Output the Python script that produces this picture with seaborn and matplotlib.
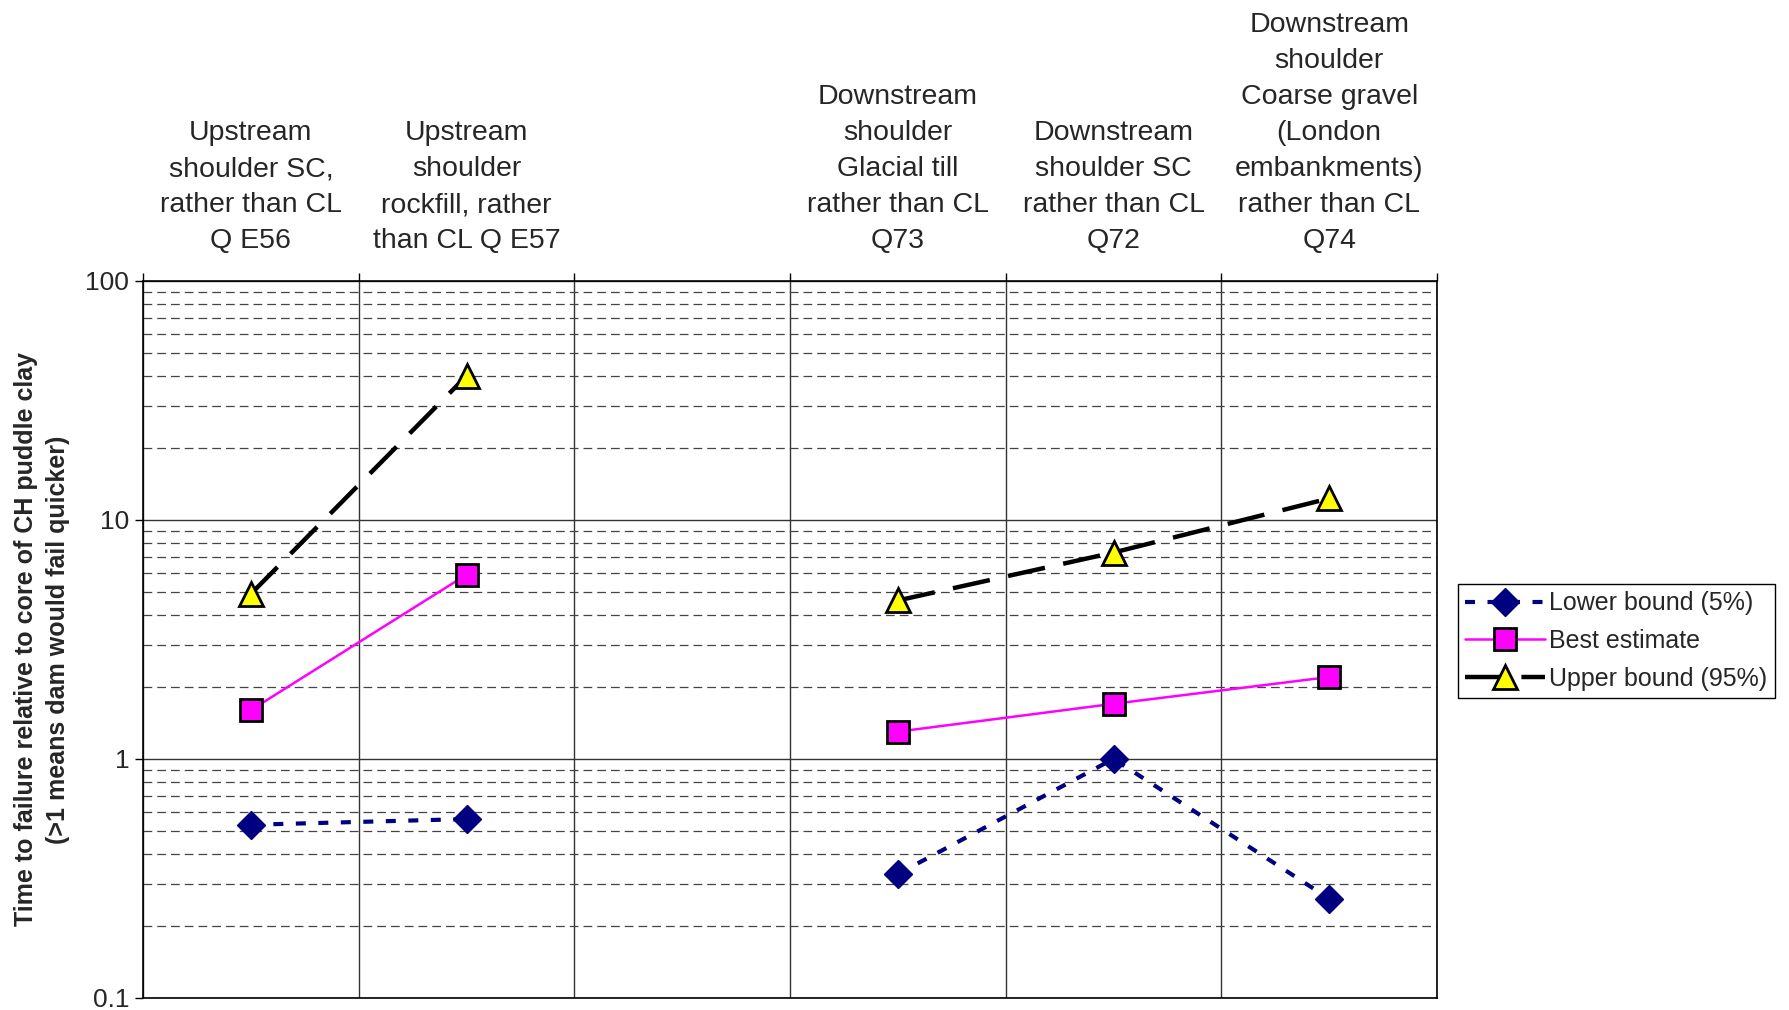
import numpy as np
import pandas as pd
import matplotlib
matplotlib.use("Agg")
import matplotlib.pyplot as plt
from matplotlib.ticker import FixedLocator, NullFormatter, FuncFormatter, LogLocator
import seaborn as sns

# Categories (the third slot is an empty spacer column)
categories = [
    "Upstream\nshoulder SC,\nrather than CL\nQ E56",
    "Upstream\nshoulder\nrockfill, rather\nthan CL Q E57",
    "",
    "Downstream\nshoulder\nGlacial till\nrather than CL\nQ73",
    "Downstream\nshoulder SC\nrather than CL\nQ72",
    "Downstream\nshoulder\nCoarse gravel\n(London\nembankments)\nrather than CL\nQ74",
]
# Line segments: the spacer column splits each series in two
segments = [0, 0, -1, 1, 1, 1]

lower_bound = [0.53, 0.56, np.nan, 0.33, 1.0, 0.26]
best_estimate = [1.6, 5.9, np.nan, 1.3, 1.7, 2.2]
upper_bound = [4.9, 40.0, np.nan, 4.6, 7.3, 12.3]

series_names = ["Lower bound (5%)", "Best estimate", "Upper bound (95%)"]

rows = []
for name, vals in zip(series_names, [lower_bound, best_estimate, upper_bound]):
    for pos, (v, seg) in enumerate(zip(vals, segments)):
        if not np.isnan(v):
            rows.append({"pos": pos, "value": v, "series": name, "segment": seg})
df = pd.DataFrame(rows)

sns.set_style("white")
plt.rcParams["font.family"] = ["Liberation Sans", "DejaVu Sans"]

fig = plt.figure(figsize=(17.9, 10.1), dpi=100)
ax = fig.add_axes([0.0799, 0.012, 0.7229, 0.7099])

styles = {
    "Lower bound (5%)": dict(color="#000080", marker="D", markersize=14,
                             markerfacecolor="#000080", markeredgecolor="#000080",
                             markeredgewidth=1.0, linewidth=3.0,
                             linestyle=(0, (2.4, 3.0))),
    "Best estimate": dict(color="#FF00FF", marker="s", markersize=16,
                          markerfacecolor="#FF00FF", markeredgecolor="black",
                          markeredgewidth=2.0, linewidth=1.8, linestyle="-"),
    "Upper bound (95%)": dict(color="black", marker="^", markersize=17,
                              markerfacecolor="#FFFF00", markeredgecolor="black",
                              markeredgewidth=2.0, linewidth=3.2,
                              linestyle=(0, (8.5, 4.2))),
}

handles = []
for name in series_names:
    n_before = len(ax.lines)
    sns.lineplot(data=df[df["series"] == name], x="pos", y="value",
                 units="segment", estimator=None, ax=ax, legend=False,
                 zorder=5, **styles[name])
    handles.append(ax.lines[n_before])

ax.set_yscale("log")
ax.set_ylim(0.1, 100)
ax.set_xlim(-0.5, len(categories) - 0.5)

# y axis: decades labelled, minor dashed grid
ax.yaxis.set_major_locator(FixedLocator([0.1, 1, 10, 100]))
ax.yaxis.set_major_formatter(FuncFormatter(lambda v, p: f"{v:g}"))
ax.yaxis.set_minor_locator(LogLocator(base=10, subs=np.arange(2, 10)))
ax.yaxis.set_minor_formatter(NullFormatter())
ax.tick_params(axis="y", which="major", direction="out", length=6, width=1,
               color="black", labelsize=19, pad=4, left=True)
ax.tick_params(axis="y", which="minor", length=0)
ax.grid(True, axis="y", which="major", color="#333333", linewidth=1.0, linestyle="-")
ax.grid(True, axis="y", which="minor", color="#444444", linewidth=0.9,
        linestyle=(0, (7, 4)))

# x axis: category labels on top, boundaries as ticks and vertical grid
ax.xaxis.tick_top()
bounds = np.arange(-0.5, len(categories), 1.0)
ax.xaxis.set_major_locator(FixedLocator(bounds))
ax.xaxis.set_major_formatter(NullFormatter())
ax.xaxis.set_minor_locator(FixedLocator(np.arange(len(categories))))
ax.set_xticklabels(categories, minor=True)
ax.tick_params(axis="x", which="major", direction="out", length=6, width=1,
               color="black", top=True, bottom=False)
ax.tick_params(axis="x", which="minor", length=0, labelsize=20.5, pad=19,
               top=True, bottom=False, labeltop=True, labelbottom=False)
for lbl in ax.get_xticklabels(minor=True):
    lbl.set_multialignment("center")
    lbl.set_linespacing(1.5)
ax.grid(True, axis="x", which="major", color="#333333", linewidth=1.0, linestyle="-")
ax.set_axisbelow(True)

ax.set_xlabel("")
ax.set_ylabel("Time to failure relative to core of CH puddle clay\n"
              "(>1 means dam would fail quicker)",
              fontsize=18, fontweight="bold", labelpad=11, linespacing=1.4)

for side in ["left", "right", "top", "bottom"]:
    ax.spines[side].set_visible(True)
    ax.spines[side].set_color("black")
    ax.spines[side].set_linewidth(1.2)

leg = fig.legend(handles, series_names, loc="upper left",
                 bbox_to_anchor=(0.8145, 0.4218), borderaxespad=0,
                 fontsize=18, frameon=True, fancybox=False, framealpha=1,
                 edgecolor="black", handlelength=3.2, handletextpad=0.15,
                 borderpad=0.3, labelspacing=0.55)
leg.get_frame().set_linewidth(1.0)

fig.savefig("out.png", dpi=100)
